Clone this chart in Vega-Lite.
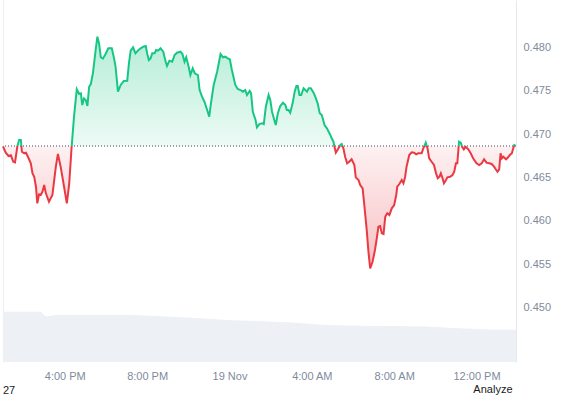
{
  "$schema": "https://vega.github.io/schema/vega-lite/v6.json",
  "width": 513,
  "height": 362,
  "autosize": {"type": "none"},
  "padding": {"left": 3, "top": 0, "right": 45, "bottom": 36},
  "background": "white",
  "config": {
    "view": {"stroke": null},
    "font": "Liberation Sans",
    "axisX": {"grid": false, "domain": false, "ticks": false, "labelColor": "#808a9d", "labelFontSize": 11, "labelPadding": 8, "titleColor": "#1a1a1a", "titleFontSize": 11, "titleFontWeight": "normal", "titlePadding": 2},
    "axisY": {"ticks": false, "labelColor": "#808a9d", "labelFontSize": 11, "labelPadding": 7, "gridColor": "#eff1f3", "domainColor": "#e6e8ec"}
  },
  "title": {"text": "27", "orient": "bottom", "anchor": "start", "frame": "group", "fontSize": 11, "fontWeight": "normal", "color": "#1a1a1a", "offset": 0, "dy": -9},
  "datasets": {
    "vol": [
      {"t": "2024-11-18T13:00Z", "v": 125},
      {"t": "2024-11-18T14:50Z", "v": 125},
      {"t": "2024-11-18T15:05Z", "v": 113},
      {"t": "2024-11-18T15:34Z", "v": 117},
      {"t": "2024-11-18T19:16Z", "v": 117},
      {"t": "2024-11-18T20:55Z", "v": 113},
      {"t": "2024-11-18T22:31Z", "v": 109},
      {"t": "2024-11-19T00:07Z", "v": 104},
      {"t": "2024-11-19T01:25Z", "v": 102},
      {"t": "2024-11-19T03:01Z", "v": 98},
      {"t": "2024-11-19T04:40Z", "v": 92},
      {"t": "2024-11-19T06:16Z", "v": 90},
      {"t": "2024-11-19T07:52Z", "v": 89.5},
      {"t": "2024-11-19T09:31Z", "v": 88},
      {"t": "2024-11-19T11:07Z", "v": 84},
      {"t": "2024-11-19T12:43Z", "v": 81},
      {"t": "2024-11-19T13:55Z", "v": 80}
    ],
    "price": [
      {"t": "2024-11-18T13:00Z", "p": 0.4686},
      {"t": "2024-11-18T13:08Z", "p": 0.46786},
      {"t": "2024-11-18T13:16Z", "p": 0.46748},
      {"t": "2024-11-18T13:23Z", "p": 0.46756},
      {"t": "2024-11-18T13:30Z", "p": 0.46682},
      {"t": "2024-11-18T13:35Z", "p": 0.46675},
      {"t": "2024-11-18T13:42Z", "p": 0.46863},
      {"t": "2024-11-18T13:47Z", "p": 0.46932},
      {"t": "2024-11-18T13:52Z", "p": 0.46932},
      {"t": "2024-11-18T13:55Z", "p": 0.46797},
      {"t": "2024-11-18T14:02Z", "p": 0.46779},
      {"t": "2024-11-18T14:07Z", "p": 0.46786},
      {"t": "2024-11-18T14:14Z", "p": 0.46728},
      {"t": "2024-11-18T14:21Z", "p": 0.46664},
      {"t": "2024-11-18T14:26Z", "p": 0.46548},
      {"t": "2024-11-18T14:31Z", "p": 0.46509},
      {"t": "2024-11-18T14:36Z", "p": 0.46394},
      {"t": "2024-11-18T14:40Z", "p": 0.46203},
      {"t": "2024-11-18T14:45Z", "p": 0.46307},
      {"t": "2024-11-18T14:50Z", "p": 0.46299},
      {"t": "2024-11-18T14:55Z", "p": 0.46337},
      {"t": "2024-11-18T15:00Z", "p": 0.46414},
      {"t": "2024-11-18T15:05Z", "p": 0.46318},
      {"t": "2024-11-18T15:14Z", "p": 0.46221},
      {"t": "2024-11-18T15:24Z", "p": 0.46299},
      {"t": "2024-11-18T15:34Z", "p": 0.46625},
      {"t": "2024-11-18T15:40Z", "p": 0.46771},
      {"t": "2024-11-18T15:48Z", "p": 0.46625},
      {"t": "2024-11-18T15:58Z", "p": 0.46394},
      {"t": "2024-11-18T16:06Z", "p": 0.46203},
      {"t": "2024-11-18T16:13Z", "p": 0.46433},
      {"t": "2024-11-18T16:20Z", "p": 0.46855},
      {"t": "2024-11-18T16:27Z", "p": 0.47201},
      {"t": "2024-11-18T16:35Z", "p": 0.47516},
      {"t": "2024-11-18T16:42Z", "p": 0.47462},
      {"t": "2024-11-18T16:47Z", "p": 0.4747},
      {"t": "2024-11-18T16:51Z", "p": 0.47335},
      {"t": "2024-11-18T16:56Z", "p": 0.47412},
      {"t": "2024-11-18T17:01Z", "p": 0.47393},
      {"t": "2024-11-18T17:06Z", "p": 0.47324},
      {"t": "2024-11-18T17:11Z", "p": 0.47546},
      {"t": "2024-11-18T17:16Z", "p": 0.47577},
      {"t": "2024-11-18T17:22Z", "p": 0.47701},
      {"t": "2024-11-18T17:30Z", "p": 0.47969},
      {"t": "2024-11-18T17:35Z", "p": 0.48122},
      {"t": "2024-11-18T17:40Z", "p": 0.48046},
      {"t": "2024-11-18T17:45Z", "p": 0.47885},
      {"t": "2024-11-18T17:51Z", "p": 0.47869},
      {"t": "2024-11-18T17:59Z", "p": 0.47923},
      {"t": "2024-11-18T18:07Z", "p": 0.47988},
      {"t": "2024-11-18T18:17Z", "p": 0.47988},
      {"t": "2024-11-18T18:23Z", "p": 0.47885},
      {"t": "2024-11-18T18:28Z", "p": 0.47777},
      {"t": "2024-11-18T18:35Z", "p": 0.47489},
      {"t": "2024-11-18T18:43Z", "p": 0.47566},
      {"t": "2024-11-18T18:52Z", "p": 0.47612},
      {"t": "2024-11-18T19:02Z", "p": 0.47615},
      {"t": "2024-11-18T19:07Z", "p": 0.47816},
      {"t": "2024-11-18T19:12Z", "p": 0.47961},
      {"t": "2024-11-18T19:19Z", "p": 0.48},
      {"t": "2024-11-18T19:26Z", "p": 0.47931},
      {"t": "2024-11-18T19:33Z", "p": 0.47961},
      {"t": "2024-11-18T19:41Z", "p": 0.47988},
      {"t": "2024-11-18T19:49Z", "p": 0.48007},
      {"t": "2024-11-18T19:56Z", "p": 0.48015},
      {"t": "2024-11-18T20:00Z", "p": 0.47931},
      {"t": "2024-11-18T20:05Z", "p": 0.47854},
      {"t": "2024-11-18T20:10Z", "p": 0.47873},
      {"t": "2024-11-18T20:15Z", "p": 0.47931},
      {"t": "2024-11-18T20:22Z", "p": 0.47931},
      {"t": "2024-11-18T20:26Z", "p": 0.47969},
      {"t": "2024-11-18T20:32Z", "p": 0.47961},
      {"t": "2024-11-18T20:39Z", "p": 0.47988},
      {"t": "2024-11-18T20:47Z", "p": 0.47949},
      {"t": "2024-11-18T20:54Z", "p": 0.47834},
      {"t": "2024-11-18T20:58Z", "p": 0.47785},
      {"t": "2024-11-18T21:05Z", "p": 0.47846},
      {"t": "2024-11-18T21:13Z", "p": 0.47834},
      {"t": "2024-11-18T21:20Z", "p": 0.47911},
      {"t": "2024-11-18T21:27Z", "p": 0.47938},
      {"t": "2024-11-18T21:37Z", "p": 0.47949},
      {"t": "2024-11-18T21:43Z", "p": 0.47923},
      {"t": "2024-11-18T21:49Z", "p": 0.47834},
      {"t": "2024-11-18T21:54Z", "p": 0.47885},
      {"t": "2024-11-18T22:01Z", "p": 0.47777},
      {"t": "2024-11-18T22:06Z", "p": 0.47681},
      {"t": "2024-11-18T22:13Z", "p": 0.47758},
      {"t": "2024-11-18T22:19Z", "p": 0.47701},
      {"t": "2024-11-18T22:28Z", "p": 0.47681},
      {"t": "2024-11-18T22:33Z", "p": 0.47508},
      {"t": "2024-11-18T22:40Z", "p": 0.47431},
      {"t": "2024-11-18T22:47Z", "p": 0.47373},
      {"t": "2024-11-18T22:55Z", "p": 0.47278},
      {"t": "2024-11-18T23:01Z", "p": 0.47201},
      {"t": "2024-11-18T23:06Z", "p": 0.47355},
      {"t": "2024-11-18T23:14Z", "p": 0.47566},
      {"t": "2024-11-18T23:24Z", "p": 0.47719},
      {"t": "2024-11-18T23:34Z", "p": 0.47923},
      {"t": "2024-11-18T23:41Z", "p": 0.47885},
      {"t": "2024-11-18T23:48Z", "p": 0.47892},
      {"t": "2024-11-18T23:55Z", "p": 0.47873},
      {"t": "2024-11-19T00:01Z", "p": 0.47862},
      {"t": "2024-11-19T00:07Z", "p": 0.47739},
      {"t": "2024-11-19T00:17Z", "p": 0.47566},
      {"t": "2024-11-19T00:24Z", "p": 0.4752},
      {"t": "2024-11-19T00:32Z", "p": 0.47508},
      {"t": "2024-11-19T00:39Z", "p": 0.47489},
      {"t": "2024-11-19T00:46Z", "p": 0.47508},
      {"t": "2024-11-19T00:51Z", "p": 0.47451},
      {"t": "2024-11-19T00:59Z", "p": 0.47497},
      {"t": "2024-11-19T01:03Z", "p": 0.4747},
      {"t": "2024-11-19T01:08Z", "p": 0.47258},
      {"t": "2024-11-19T01:16Z", "p": 0.47163},
      {"t": "2024-11-19T01:20Z", "p": 0.47078},
      {"t": "2024-11-19T01:27Z", "p": 0.47116},
      {"t": "2024-11-19T01:35Z", "p": 0.47124},
      {"t": "2024-11-19T01:40Z", "p": 0.47116},
      {"t": "2024-11-19T01:46Z", "p": 0.47316},
      {"t": "2024-11-19T01:54Z", "p": 0.47451},
      {"t": "2024-11-19T01:59Z", "p": 0.47393},
      {"t": "2024-11-19T02:04Z", "p": 0.47258},
      {"t": "2024-11-19T02:12Z", "p": 0.47143},
      {"t": "2024-11-19T02:15Z", "p": 0.47105},
      {"t": "2024-11-19T02:21Z", "p": 0.4724},
      {"t": "2024-11-19T02:28Z", "p": 0.47324},
      {"t": "2024-11-19T02:36Z", "p": 0.47362},
      {"t": "2024-11-19T02:43Z", "p": 0.47335},
      {"t": "2024-11-19T02:47Z", "p": 0.47278},
      {"t": "2024-11-19T02:52Z", "p": 0.47278},
      {"t": "2024-11-19T02:57Z", "p": 0.47247},
      {"t": "2024-11-19T03:04Z", "p": 0.47355},
      {"t": "2024-11-19T03:10Z", "p": 0.47489},
      {"t": "2024-11-19T03:15Z", "p": 0.47554},
      {"t": "2024-11-19T03:19Z", "p": 0.47554},
      {"t": "2024-11-19T03:24Z", "p": 0.47451},
      {"t": "2024-11-19T03:29Z", "p": 0.47451},
      {"t": "2024-11-19T03:36Z", "p": 0.47528},
      {"t": "2024-11-19T03:41Z", "p": 0.47508},
      {"t": "2024-11-19T03:46Z", "p": 0.47489},
      {"t": "2024-11-19T03:51Z", "p": 0.47528},
      {"t": "2024-11-19T03:57Z", "p": 0.47528},
      {"t": "2024-11-19T04:05Z", "p": 0.47477},
      {"t": "2024-11-19T04:10Z", "p": 0.47431},
      {"t": "2024-11-19T04:17Z", "p": 0.47355},
      {"t": "2024-11-19T04:23Z", "p": 0.4724},
      {"t": "2024-11-19T04:29Z", "p": 0.4722},
      {"t": "2024-11-19T04:37Z", "p": 0.47105},
      {"t": "2024-11-19T04:44Z", "p": 0.47067},
      {"t": "2024-11-19T04:49Z", "p": 0.47028},
      {"t": "2024-11-19T04:54Z", "p": 0.4699},
      {"t": "2024-11-19T04:58Z", "p": 0.46952},
      {"t": "2024-11-19T05:03Z", "p": 0.46913},
      {"t": "2024-11-19T05:06Z", "p": 0.46855},
      {"t": "2024-11-19T05:10Z", "p": 0.46786},
      {"t": "2024-11-19T05:16Z", "p": 0.46825},
      {"t": "2024-11-19T05:23Z", "p": 0.46875},
      {"t": "2024-11-19T05:27Z", "p": 0.46886},
      {"t": "2024-11-19T05:32Z", "p": 0.46837},
      {"t": "2024-11-19T05:37Z", "p": 0.4674},
      {"t": "2024-11-19T05:43Z", "p": 0.46664},
      {"t": "2024-11-19T05:49Z", "p": 0.46682},
      {"t": "2024-11-19T05:56Z", "p": 0.4671},
      {"t": "2024-11-19T06:04Z", "p": 0.46644},
      {"t": "2024-11-19T06:08Z", "p": 0.46502},
      {"t": "2024-11-19T06:16Z", "p": 0.46471},
      {"t": "2024-11-19T06:21Z", "p": 0.46414},
      {"t": "2024-11-19T06:28Z", "p": 0.46376},
      {"t": "2024-11-19T06:33Z", "p": 0.46183},
      {"t": "2024-11-19T06:40Z", "p": 0.45895},
      {"t": "2024-11-19T06:45Z", "p": 0.45645},
      {"t": "2024-11-19T06:50Z", "p": 0.45454},
      {"t": "2024-11-19T06:57Z", "p": 0.4553},
      {"t": "2024-11-19T07:04Z", "p": 0.45665},
      {"t": "2024-11-19T07:09Z", "p": 0.45792},
      {"t": "2024-11-19T07:14Z", "p": 0.45933},
      {"t": "2024-11-19T07:19Z", "p": 0.45941},
      {"t": "2024-11-19T07:24Z", "p": 0.45857},
      {"t": "2024-11-19T07:29Z", "p": 0.45849},
      {"t": "2024-11-19T07:34Z", "p": 0.46049},
      {"t": "2024-11-19T07:40Z", "p": 0.46088},
      {"t": "2024-11-19T07:46Z", "p": 0.46068},
      {"t": "2024-11-19T07:53Z", "p": 0.46145},
      {"t": "2024-11-19T08:00Z", "p": 0.46183},
      {"t": "2024-11-19T08:06Z", "p": 0.46299},
      {"t": "2024-11-19T08:09Z", "p": 0.46394},
      {"t": "2024-11-19T08:15Z", "p": 0.46425},
      {"t": "2024-11-19T08:22Z", "p": 0.46471},
      {"t": "2024-11-19T08:27Z", "p": 0.46433},
      {"t": "2024-11-19T08:32Z", "p": 0.46509},
      {"t": "2024-11-19T08:36Z", "p": 0.46625},
      {"t": "2024-11-19T08:44Z", "p": 0.46759},
      {"t": "2024-11-19T08:51Z", "p": 0.4679},
      {"t": "2024-11-19T08:58Z", "p": 0.46786},
      {"t": "2024-11-19T09:04Z", "p": 0.46767},
      {"t": "2024-11-19T09:10Z", "p": 0.46779},
      {"t": "2024-11-19T09:20Z", "p": 0.46779},
      {"t": "2024-11-19T09:25Z", "p": 0.46837},
      {"t": "2024-11-19T09:32Z", "p": 0.46901},
      {"t": "2024-11-19T09:37Z", "p": 0.46837},
      {"t": "2024-11-19T09:42Z", "p": 0.46721},
      {"t": "2024-11-19T09:49Z", "p": 0.46682},
      {"t": "2024-11-19T09:56Z", "p": 0.46644},
      {"t": "2024-11-19T10:02Z", "p": 0.46548},
      {"t": "2024-11-19T10:07Z", "p": 0.46491},
      {"t": "2024-11-19T10:12Z", "p": 0.46509},
      {"t": "2024-11-19T10:16Z", "p": 0.46548},
      {"t": "2024-11-19T10:21Z", "p": 0.46491},
      {"t": "2024-11-19T10:25Z", "p": 0.46433},
      {"t": "2024-11-19T10:31Z", "p": 0.46471},
      {"t": "2024-11-19T10:35Z", "p": 0.46502},
      {"t": "2024-11-19T10:43Z", "p": 0.46509},
      {"t": "2024-11-19T10:50Z", "p": 0.46529},
      {"t": "2024-11-19T10:55Z", "p": 0.46567},
      {"t": "2024-11-19T11:00Z", "p": 0.46664},
      {"t": "2024-11-19T11:04Z", "p": 0.46664},
      {"t": "2024-11-19T11:09Z", "p": 0.46913},
      {"t": "2024-11-19T11:14Z", "p": 0.46901},
      {"t": "2024-11-19T11:18Z", "p": 0.46855},
      {"t": "2024-11-19T11:23Z", "p": 0.46825},
      {"t": "2024-11-19T11:28Z", "p": 0.46855},
      {"t": "2024-11-19T11:36Z", "p": 0.46825},
      {"t": "2024-11-19T11:43Z", "p": 0.46779},
      {"t": "2024-11-19T11:50Z", "p": 0.46721},
      {"t": "2024-11-19T12:00Z", "p": 0.46664},
      {"t": "2024-11-19T12:08Z", "p": 0.46644},
      {"t": "2024-11-19T12:15Z", "p": 0.46664},
      {"t": "2024-11-19T12:22Z", "p": 0.4671},
      {"t": "2024-11-19T12:29Z", "p": 0.46671},
      {"t": "2024-11-19T12:37Z", "p": 0.46664},
      {"t": "2024-11-19T12:44Z", "p": 0.46656},
      {"t": "2024-11-19T12:51Z", "p": 0.46625},
      {"t": "2024-11-19T12:56Z", "p": 0.46595},
      {"t": "2024-11-19T13:01Z", "p": 0.46567},
      {"t": "2024-11-19T13:06Z", "p": 0.46595},
      {"t": "2024-11-19T13:10Z", "p": 0.46779},
      {"t": "2024-11-19T13:14Z", "p": 0.46721},
      {"t": "2024-11-19T13:18Z", "p": 0.4674},
      {"t": "2024-11-19T13:26Z", "p": 0.4671},
      {"t": "2024-11-19T13:32Z", "p": 0.46733},
      {"t": "2024-11-19T13:37Z", "p": 0.46759},
      {"t": "2024-11-19T13:43Z", "p": 0.46779},
      {"t": "2024-11-19T13:47Z", "p": 0.46837},
      {"t": "2024-11-19T13:51Z", "p": 0.46886}
    ]
  },
  "layer": [
    {
      "data": {"name": "vol"},
      "mark": {"type": "area", "color": "#edf0f4", "interpolate": "linear"},
      "encoding": {
        "x": {"field": "t", "type": "temporal",
          "scale": {"type": "utc", "domain": [{"year": 2024, "month": 11, "date": 18, "hours": 13, "utc": true}, {"year": 2024, "month": 11, "date": 19, "hours": 13, "minutes": 55, "utc": true}]},
          "axis": {"title": "Analyze", "titleX": 509, "titleAlign": "right", "labelExpr": "utchours(datum.value) == 0 ? utcFormat(datum.value, '%-d %b') : utcFormat(datum.value, '%-I:%M %p')",
            "values": [{"year": 2024, "month": 11, "date": 18, "hours": 16, "utc": true}, {"year": 2024, "month": 11, "date": 18, "hours": 20, "utc": true}, {"year": 2024, "month": 11, "date": 19, "hours": 0, "utc": true}, {"year": 2024, "month": 11, "date": 19, "hours": 4, "utc": true}, {"year": 2024, "month": 11, "date": 19, "hours": 8, "utc": true}, {"year": 2024, "month": 11, "date": 19, "hours": 12, "utc": true}]}},
        "y": {"field": "v", "type": "quantitative", "scale": {"domain": [0, 900], "nice": false},
          "axis": {"orient": "left", "labels": false, "ticks": false, "grid": false, "domain": true, "domainColor": "#eceef1", "title": null}}
      }
    },
    {
      "data": {"name": "price"},
      "layer": [
        {
          "mark": {"type": "area", "fill": {"gradient": "linear", "x1": 0, "y1": 0, "x2": 0, "y2": 1, "stops": [
            {"offset": 0, "color": "rgba(22,199,132,0.32)"},
            {"offset": 0.473, "color": "rgba(22,199,132,0.08)"},
            {"offset": 0.473, "color": "rgba(234,57,67,0.07)"},
            {"offset": 1, "color": "rgba(234,57,67,0.32)"}]}},
          "encoding": {
            "x": {"field": "t", "type": "temporal",
              "axis": {"title": "Analyze", "titleX": 509, "titleAlign": "right", "labelExpr": "utchours(datum.value) == 0 ? utcFormat(datum.value, '%-d %b') : utcFormat(datum.value, '%-I:%M %p')",
                "values": [{"year": 2024, "month": 11, "date": 18, "hours": 16, "utc": true}, {"year": 2024, "month": 11, "date": 18, "hours": 20, "utc": true}, {"year": 2024, "month": 11, "date": 19, "hours": 0, "utc": true}, {"year": 2024, "month": 11, "date": 19, "hours": 4, "utc": true}, {"year": 2024, "month": 11, "date": 19, "hours": 8, "utc": true}, {"year": 2024, "month": 11, "date": 19, "hours": 12, "utc": true}]}},
            "y": {"field": "p", "type": "quantitative",
              "scale": {"domain": [0.44375, 0.48545], "nice": false, "zero": false},
              "axis": {"orient": "right", "title": null, "format": ".3f", "values": [0.45, 0.455, 0.46, 0.465, 0.47, 0.475, 0.48]}},
            "y2": {"datum": 0.4686}
          }
        },
        {
          "mark": {"type": "rule", "color": "#9aa0a8", "strokeDash": [1, 2], "strokeWidth": 1},
          "encoding": {"y": {"datum": 0.4686}}
        },
        {
          "mark": {"type": "line", "strokeWidth": 2, "stroke": {"gradient": "linear", "x1": 0, "y1": 0, "x2": 0, "y2": 1, "stops": [
            {"offset": 0, "color": "#16c784"},
            {"offset": 0.473, "color": "#16c784"},
            {"offset": 0.473, "color": "#ea3943"},
            {"offset": 1, "color": "#ea3943"}]}},
          "encoding": {
            "x": {"field": "t", "type": "temporal",
              "axis": {"title": "Analyze", "titleX": 509, "titleAlign": "right", "labelExpr": "utchours(datum.value) == 0 ? utcFormat(datum.value, '%-d %b') : utcFormat(datum.value, '%-I:%M %p')",
                "values": [{"year": 2024, "month": 11, "date": 18, "hours": 16, "utc": true}, {"year": 2024, "month": 11, "date": 18, "hours": 20, "utc": true}, {"year": 2024, "month": 11, "date": 19, "hours": 0, "utc": true}, {"year": 2024, "month": 11, "date": 19, "hours": 4, "utc": true}, {"year": 2024, "month": 11, "date": 19, "hours": 8, "utc": true}, {"year": 2024, "month": 11, "date": 19, "hours": 12, "utc": true}]}},
            "y": {"field": "p", "type": "quantitative"}
          }
        }
      ]
    }
  ],
  "resolve": {"scale": {"y": "independent"}}
}
